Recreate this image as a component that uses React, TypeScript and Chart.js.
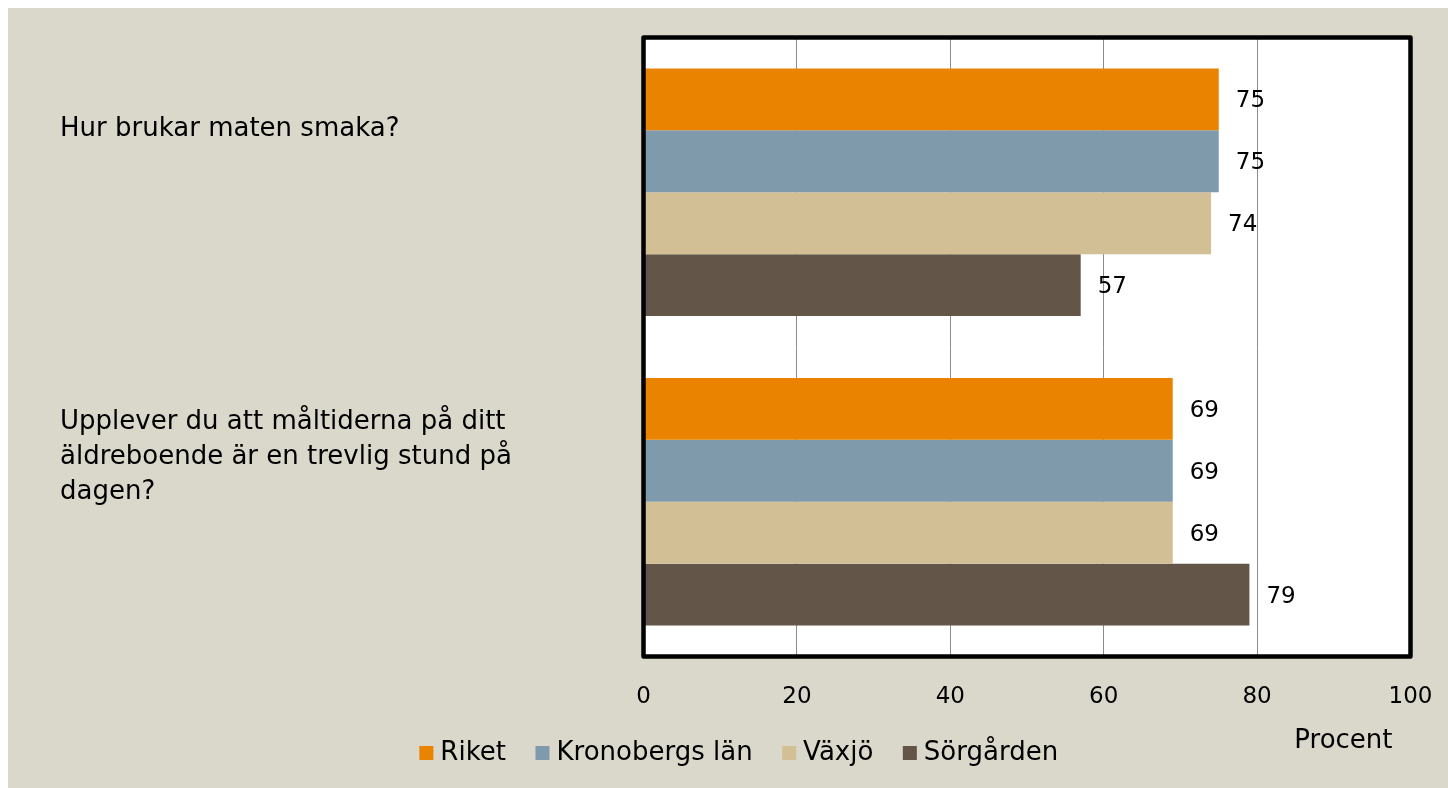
import React, { useEffect, useRef } from "react";
import { Chart, registerables } from "chart.js";

Chart.register(...registerables);

const categories: string[][] = [
  ["Hur brukar maten smaka?"],
  ["Upplever du att måltiderna på ditt", "äldreboende är en trevlig stund på", "dagen?"],
];
const seriesNames = ["Riket", "Kronobergs län", "Växjö", "Sörgården"];
const riket = [75, 69];
const kronobergsLan = [75, 69];
const vaxjo = [74, 69];
const sorgarden = [57, 79];
const xTickMin = 0;
const xTickMax = 100;
const xTickStep = 20;
const axisTitle = "Procent";

const seriesColors = ["#EA8300", "#7F9AAB", "#D3BF96", "#635649"];
const FONT = "'DejaVu Sans', sans-serif";

const backgroundPlugin = {
  id: "bgPlugin",
  beforeDraw(chart: any) {
    const { ctx, chartArea, width, height } = chart;
    ctx.save();
    ctx.fillStyle = "#DAD7CB";
    ctx.fillRect(0, 0, width, height);
    ctx.fillStyle = "#FFFFFF";
    ctx.fillRect(chartArea.left, chartArea.top, chartArea.right - chartArea.left, chartArea.bottom - chartArea.top);
    ctx.restore();
  },
};

const borderPlugin = {
  id: "borderPlugin",
  afterDatasetsDraw(chart: any) {
    const { ctx, chartArea } = chart;
    ctx.save();
    ctx.strokeStyle = "#000000";
    ctx.lineWidth = 4.5;
    ctx.lineJoin = "round";
    ctx.strokeRect(chartArea.left, chartArea.top, chartArea.right - chartArea.left, chartArea.bottom - chartArea.top);
    ctx.restore();
  },
};

const valueLabelPlugin = {
  id: "valueLabels",
  afterDatasetsDraw(chart: any) {
    const { ctx } = chart;
    ctx.save();
    ctx.font = `23px ${FONT}`;
    ctx.fillStyle = "#000000";
    ctx.textAlign = "left";
    ctx.textBaseline = "middle";
    chart.data.datasets.forEach((ds: any, i: number) => {
      const meta = chart.getDatasetMeta(i);
      meta.data.forEach((bar: any, j: number) => {
        ctx.fillText(String(ds.data[j]), bar.x + 17, bar.y + 2);
      });
    });
    ctx.restore();
  },
};

const categoryLabelPlugin = {
  id: "categoryLabels",
  afterDraw(chart: any) {
    const { ctx } = chart;
    const yScale = chart.scales.y;
    const shifts = [-63, -45];
    const lineHeight = 35;
    ctx.save();
    ctx.font = `26px ${FONT}`;
    ctx.fillStyle = "#000000";
    ctx.textAlign = "left";
    ctx.textBaseline = "middle";
    categories.forEach((lines, i) => {
      const cy = yScale.getPixelForValue(i) + shifts[i];
      lines.forEach((ln, j) => {
        ctx.fillText(ln, 52, cy + (j - (lines.length - 1) / 2) * lineHeight);
      });
    });
    ctx.restore();
  },
};

const axisTitlePlugin = {
  id: "axisTitle",
  afterDraw(chart: any) {
    const { ctx, chartArea } = chart;
    ctx.save();
    ctx.font = `26px ${FONT}`;
    ctx.fillStyle = "#000000";
    ctx.textAlign = "right";
    ctx.textBaseline = "middle";
    ctx.fillText(axisTitle, chartArea.right - 18, chartArea.bottom + 85);
    ctx.restore();
  },
};

export default function App() {
  const canvasRef = useRef<HTMLCanvasElement | null>(null);

  useEffect(() => {
    document.body.style.overflow = "hidden";
    const canvas = canvasRef.current;
    if (!canvas) return;
    const allSeries = [riket, kronobergsLan, vaxjo, sorgarden];
    const chart = new Chart(canvas, {
      type: "bar",
      data: {
        labels: categories,
        datasets: allSeries.map((values, i) => ({
          label: seriesNames[i],
          data: values,
          backgroundColor: seriesColors[i],
          borderWidth: 0,
          barPercentage: 1,
          categoryPercentage: 0.8,
        })),
      },
      options: {
        indexAxis: "y",
        responsive: true,
        maintainAspectRatio: false,
        animation: false,
        devicePixelRatio: 1,
        layout: { padding: { left: 65, right: 37.5, top: 29.5, bottom: 12 } },
        scales: {
          x: {
            min: xTickMin,
            max: xTickMax,
            ticks: {
              stepSize: xTickStep,
              color: "#000000",
              font: { family: FONT, size: 23 },
              padding: 10,
            },
            grid: {
              color: "#8C8C8C",
              lineWidth: 1,
              drawTicks: true,
              tickLength: 17,
              tickColor: "rgba(0,0,0,0)",
            },
            border: { display: false },
            afterFit: (scale: any) => {
              scale.height = 48;
            },
          },
          y: {
            display: true,
            ticks: { display: false },
            grid: { display: false },
            border: { display: false },
            afterFit: (scale: any) => {
              scale.width = 570.5;
            },
          },
        },
        plugins: {
          legend: {
            position: "bottom",
            labels: {
              usePointStyle: true,
              pointStyle: "rect",
              boxWidth: 2,
              boxHeight: 14,
              padding: 35.5,
              color: "#000000",
              font: { family: FONT, size: 26 },
            },
          },
          tooltip: { enabled: false },
        },
      },
      plugins: [backgroundPlugin, borderPlugin, valueLabelPlugin, categoryLabelPlugin, axisTitlePlugin],
    } as any);
    return () => chart.destroy();
  }, []);

  return (
    <div style={{ position: "absolute", left: 8, top: 8, width: 1440, height: 780 }}>
      <canvas ref={canvasRef} />
    </div>
  );
}
